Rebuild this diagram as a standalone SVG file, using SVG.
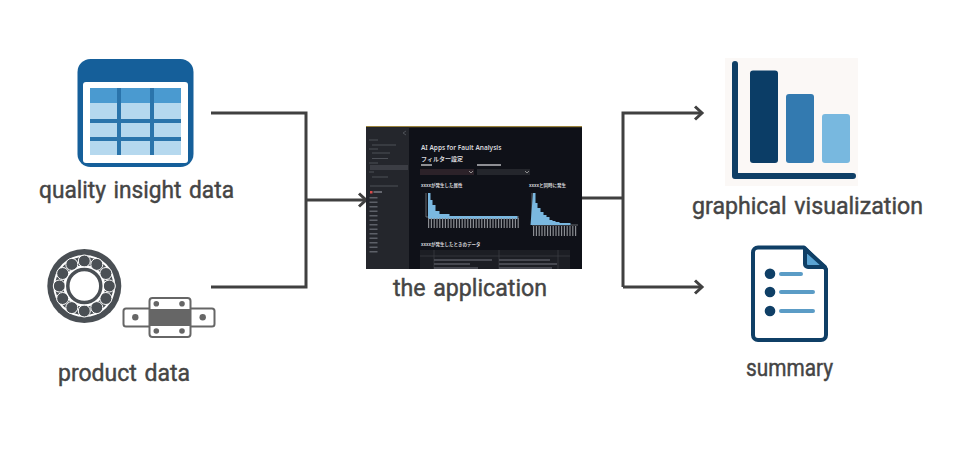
<svg xmlns="http://www.w3.org/2000/svg" width="979" height="454" viewBox="0 0 979 454">
<style>
.lbl{font-family:Roboto,"Noto Sans",sans-serif;font-size:24px;fill:#454545;word-spacing:2px;stroke:#454545;stroke-width:.45px}
.conn{fill:none;stroke:#404040;stroke-width:3}
.ui{font-family:"Noto Sans","Noto Sans CJK JP",sans-serif;fill:#d8d8dc}
.side{stroke:#4d5057;stroke-width:1;fill:none}
.tick{stroke:#8a8d92;stroke-width:10;stroke-dasharray:1.200 1.600;fill:none}
.bar{fill:#7ab8e0}
.dk{fill:#4a4f54}
</style>
<defs>
<marker id="arrow" markerUnits="userSpaceOnUse" markerWidth="14" markerHeight="16" refX="11" refY="8" orient="auto"><path d="M4 1.500L11 8L4 14.500" fill="none" stroke="#404040" stroke-width="3"/></marker>
</defs>
<rect width="979" height="454" fill="#fff"/>
<g id="connectors" class="conn">
<path d="M211 113H306V287H211"/>
<path d="M306 200H366" marker-end="url(#arrow)"/>
<path d="M582 198H623"/>
<path d="M623 287V113H702" marker-end="url(#arrow)"/>
<path d="M623 287H702" marker-end="url(#arrow)"/>
</g>
<g id="quality-insight-data">
<rect x="77.500" y="59" width="116" height="108" rx="13" fill="#155f9a"/>
<rect x="83" y="82" width="105" height="81" rx="3" fill="#fff"/>
<rect x="90" y="88" width="91" height="67" fill="#b5d8ee"/>
<rect x="90" y="88" width="91" height="15" fill="#4a9ad0"/>
<path d="M90 121H181M90 139H181M119 88V155M152 88V155" stroke="#2a74ab" stroke-width="4" fill="none"/>
<text class="lbl" x="39" y="198" textLength="195" lengthAdjust="spacingAndGlyphs">quality insight data</text>
</g>
<g id="product-data">
<circle cx="84.300" cy="286" r="37" class="dk"/>
<circle cx="84.300" cy="286" r="31" fill="#fff"/>
<circle cx="84.300" cy="286" r="25" fill="none" stroke="#4a4f54" stroke-width="8"/>
<g id="bearing-balls" fill="#4a4f54" stroke="#fff" stroke-width="1">
<circle cx="84.300" cy="261" r="6"/><circle cx="96.800" cy="264.400" r="6"/><circle cx="105.900" cy="273.500" r="6"/><circle cx="109.300" cy="286" r="6"/><circle cx="105.900" cy="298.500" r="6"/><circle cx="96.800" cy="307.600" r="6"/><circle cx="84.300" cy="311" r="6"/><circle cx="71.800" cy="307.600" r="6"/><circle cx="62.700" cy="298.500" r="6"/><circle cx="59.300" cy="286" r="6"/><circle cx="62.700" cy="273.500" r="6"/><circle cx="71.800" cy="264.400" r="6"/>
</g>
<circle cx="84.300" cy="286" r="19.500" fill="#fff"/>
<circle cx="84.300" cy="286" r="16.500" fill="#fff" stroke="#4a4f54" stroke-width="3.500"/>
<rect x="123.500" y="308.500" width="91" height="18" rx="2.500" fill="#fff" stroke="#666" stroke-width="2"/>
<rect x="149.500" y="298" width="41" height="39" rx="3" fill="#fff" stroke="#666" stroke-width="2"/>
<rect x="149" y="309" width="41" height="17" fill="#666"/>
<g fill="#666"><circle cx="156.300" cy="303.700" r="2.800"/><circle cx="182" cy="303.700" r="2.800"/><circle cx="156.300" cy="331" r="2.800"/><circle cx="182" cy="331" r="2.800"/><circle cx="135.300" cy="317.300" r="3.200"/><circle cx="202.700" cy="317.300" r="3.200"/></g>
<text class="lbl" x="58" y="381" textLength="132" lengthAdjust="spacingAndGlyphs">product data</text>
</g>
<g id="the-application">
<rect x="366" y="126" width="216" height="143" fill="#0f1118"/>
<rect x="366" y="126" width="216" height="1.200" fill="#c9a94a" opacity=".75"/>
<rect x="366" y="127.200" width="43" height="141.800" fill="#24262c"/>
<path d="M406 131L403 133L406 135" class="side"/>
<path d="M369 140H378M372 145H396M369 149H378M372 153H390M372 158.500H388M369 163H378M372 167H396M369 172H374M372 177H388" class="side"/>
<rect x="370" y="165" width="38" height="5" fill="#3b3d44"/>
<path d="M370 186H398" class="side"/>
<rect x="370" y="191" width="2.500" height="2.500" fill="#d94a4a"/>
<path d="M373.500 192H382" stroke="#7a7d84" stroke-width="1.500"/>
<path d="M373.500 197V254" stroke="#5d6068" stroke-width="8" stroke-dasharray="1.500 3"/>
<text class="ui" x="421" y="150" font-size="6.500" font-weight="600">AI Apps for Fault Analysis</text>
<text class="ui" x="421" y="161" font-size="6" font-weight="600">フィルター設定</text>
<rect x="420" y="169" width="54" height="6" fill="#2c2229"/>
<rect x="477" y="169" width="53" height="6" fill="#24262c"/>
<path d="M421 165H432M477 165H501" stroke="#b9b9bd" stroke-width="1.500"/>
<path d="M469 171L471 173L473 171M525 171L527 173L529 171" stroke="#aaa" stroke-width=".8" fill="none"/>
<text class="ui" x="421" y="187" font-size="4.500" font-weight="600">xxxxが発生した属性</text>
<text class="ui" x="529" y="187" font-size="4.500" font-weight="600">xxxxと同時に発生</text>
<path d="M426 193V217H519" stroke="#8a8d92" stroke-width=".7" fill="none"/>
<path d="M428 193h2.500v7h2v5h3v6h4v3h10v2h68v3H428z" class="bar"/>
<path d="M428 218H519" class="tick" transform="translate(0 5)"/>
<path d="M532 193V225H578" stroke="#8a8d92" stroke-width=".7" fill="none"/>
<path d="M533 193h2.500v10h2v5h3v4h3v3h3v2h3v3h3v1h3v1h4v1h11v2h-40z" class="bar"/>
<path d="M533 226H577" class="tick" transform="translate(0 5)"/>
<text class="ui" x="421" y="246" font-size="4.500" font-weight="600">xxxxが発生したときのデータ</text>
<rect x="420" y="250" width="150" height="19" fill="#1c1e24"/>
<path d="M420 256H570M434 250V269M499 250V269M558 250V269" stroke="#3d3f46" stroke-width=".7"/>
<path d="M434 260H492M499 260H550M434 264H470M499 264H557M434 268H478M499 268H552" stroke="#555860" stroke-width="1.500"/>
<text class="lbl" x="393" y="296" textLength="154" lengthAdjust="spacingAndGlyphs">the application</text>
</g>
<g id="graphical-visualization">
<rect x="725" y="58" width="133" height="128" fill="#fbf8f6"/>
<path d="M735 64V176H853" fill="none" stroke="#0f3f66" stroke-width="6" stroke-linecap="round" stroke-linejoin="round"/>
<rect x="750" y="70.500" width="28" height="92.500" rx="3" fill="#0b3d66"/>
<rect x="786" y="94" width="28" height="69" rx="3" fill="#337ab0"/>
<rect x="822" y="114" width="28" height="49" rx="3" fill="#78b8df"/>
<text class="lbl" x="692" y="214" textLength="231" lengthAdjust="spacingAndGlyphs">graphical visualization</text>
</g>
<g id="summary">
<path d="M758 247.500H804L826 269V335a5 5 0 0 1-5 5H758a5 5 0 0 1-5-5V252.500a5 5 0 0 1 5-5z" fill="#fff" stroke="#0f3f66" stroke-width="4" stroke-linejoin="round"/>
<path d="M805 249V264a3 3 0 0 0 3 3H825z" fill="#5aa4d4" stroke="#0f3f66" stroke-width="4" stroke-linejoin="round"/>
<g fill="#0f3f66"><circle cx="770" cy="273.700" r="5.300"/><circle cx="770" cy="292" r="5.300"/><circle cx="770" cy="311" r="5.300"/></g>
<path d="M781 274H801M781 292H813M781 311H813" stroke="#5b9cc6" stroke-width="4" stroke-linecap="round"/>
<text class="lbl" x="746" y="376" textLength="87" lengthAdjust="spacingAndGlyphs">summary</text>
</g>
</svg>
